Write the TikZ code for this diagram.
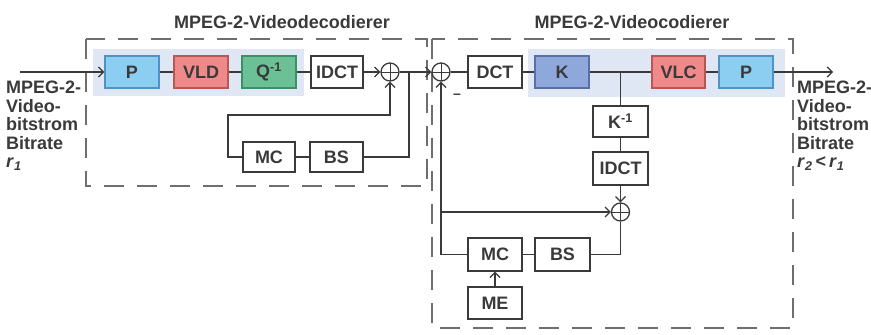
\documentclass[tikz,border=0pt]{standalone}
\usepackage{fontspec}
\setmainfont{Liberation Sans}
\usetikzlibrary{arrows.meta}
\definecolor{band}{HTML}{DFE6F4}
\definecolor{pfill}{HTML}{8CCDF2}
\definecolor{pdraw}{HTML}{4F93C2}
\definecolor{rfill}{HTML}{F08A8A}
\definecolor{rdraw}{HTML}{B85555}
\definecolor{gfill}{HTML}{6CC095}
\definecolor{gdraw}{HTML}{3C8F66}
\definecolor{kfill}{HTML}{8FA8DC}
\definecolor{kdraw}{HTML}{5A6FA8}
\definecolor{ink}{HTML}{3A3A3A}
\definecolor{dashc}{HTML}{6E6E6E}
\begin{document}
\begin{tikzpicture}[x=1pt,y=-1pt,
  font=\fontsize{18}{18.5}\selectfont\bfseries,
  every node/.style={text=ink},
  blk/.style={draw=ink, line width=1.4pt, minimum width=54pt, minimum height=32pt, inner sep=0pt},
  colblk/.style 2 args={blk, draw=#2, fill=#1},
  sumnode/.style={circle, draw=ink, line width=1.3pt, minimum size=18pt, inner sep=0pt,
    path picture={\draw[ink, line width=1pt] (path picture bounding box.north) -- (path picture bounding box.south)
      (path picture bounding box.west) -- (path picture bounding box.east);}},
  wire/.style={draw=ink, line width=1.3pt},
  arr/.style={wire, -{Straight Barb[length=5pt,width=10pt,line width=1.2pt]}},
  dbox/.style={draw=dashc, line width=2pt, dash pattern=on 20pt off 13pt},
  side/.style={align=left, anchor=north west, font=\fontsize{18}{18.5}\selectfont\bfseries, inner sep=0pt}
]
\useasboundingbox (0,0) rectangle (871,335);
\fill[white] (0,0) rectangle (871,335);

% bands
\fill[band] (93,49) rectangle (304,96);
\fill[band] (528,49) rectangle (785,97);

% dashed boxes
\draw[dbox] (86,39) rectangle (427,186);
\draw[dbox] (432,39) rectangle (793,328);

% titles
\node (t1) at (282,22) {MPEG-2-Videodecodierer};
\node (t2) at (632,22) {MPEG-2-Videocodierer};

% decoder
\node[colblk={pfill}{pdraw}] (P1) at (132,72) {P};
\node[colblk={rfill}{rdraw}] (VLD) at (201,72) {VLD};
\node[colblk={gfill}{gdraw}] (Q) at (269,72) {Q\textsuperscript{-1}};
\node[blk, minimum width=52pt] (IDCT1) at (337,72) {IDCT};
\node[sumnode] (S1) at (390,72) {};
\node[blk, minimum width=52pt, minimum height=30pt] (MC1) at (269,157) {MC};
\node[blk, minimum width=53pt, minimum height=30pt] (BS1) at (336.5,157) {BS};
\coordinate (J1) at (409,72);
\coordinate (in) at (20,72);

% encoder
\node[sumnode] (S2) at (441,72) {};
\node[blk] (DCT) at (495,72) {DCT};
\node[colblk={kfill}{kdraw}] (K) at (562,72) {K};
\node[colblk={rfill}{rdraw}, minimum width=53pt] (VLC) at (678.5,72) {VLC};
\node[colblk={pfill}{pdraw}] (P2) at (746,72) {P};
\coordinate (J2) at (620.5,72);
\node[blk, minimum width=55pt, minimum height=31pt] (Ki) at (620.5,121.5) {K\textsuperscript{-1}};
\node[blk, minimum width=55pt, minimum height=33pt] (IDCT2) at (620.5,168.5) {IDCT};
\node[sumnode] (S3) at (620.5,212) {};
\node[blk, minimum height=33pt] (MC2) at (495,254.5) {MC};
\node[blk, minimum width=55pt, minimum height=33pt] (BS2) at (562.5,254.5) {BS};
\node[blk] (ME) at (495,303) {ME};
\coordinate (out) at (833,72);
\node[inner sep=0pt] (minus) at (457,96) {\fontsize{14}{14}\selectfont --};

% side texts
\node[side] (lt) at (6,81) {MPEG-2-\\Video-\\bitstrom\\Bitrate\\\textit{r}\textsubscript{\textit{1}}};
\node[side] (rt) at (797,81) {MPEG-2-\\Video-\\bitstrom\\Bitrate\\\textit{r}\textsubscript{\textit{2}}\,<\,\textit{r}\textsubscript{\textit{1}}};

% decoder wires
\draw[arr] (in) -- (P1);
\draw[wire] (P1) -- (VLD);
\draw[wire] (VLD) -- (Q);
\draw[wire] (Q) -- (IDCT1);
\draw[arr] (IDCT1) -- (S1);
\draw[wire] (S1) -- (J1);
\draw[wire] (J1) |- (BS1.east);
\draw[wire] (BS1) -- (MC1);
\draw[arr] (MC1.west) -- (228,157) -- (228,115) -| (S1.south);

% encoder wires
\draw[arr] (J1) -- (S2);
\draw[wire] (S2) -- (DCT);
\draw[wire] (DCT) -- (K);
\draw[wire] (K) -- (VLC);
\draw[wire] (VLC) -- (P2);
\draw[arr] (P2) -- (out);
\draw[wire] (J2) -- (Ki);
\draw[wire] (Ki) -- (IDCT2);
\draw[arr] (IDCT2) -- (S3);
\draw[arr] (MC2.west) -| (S2.south);
\draw[arr] (441,212) -- (S3.west);
\draw[wire] (S3.south) |- (BS2.east);
\draw[wire] (BS2) -- (MC2);
\draw[arr] (ME) -- (MC2);
\end{tikzpicture}
\end{document}
